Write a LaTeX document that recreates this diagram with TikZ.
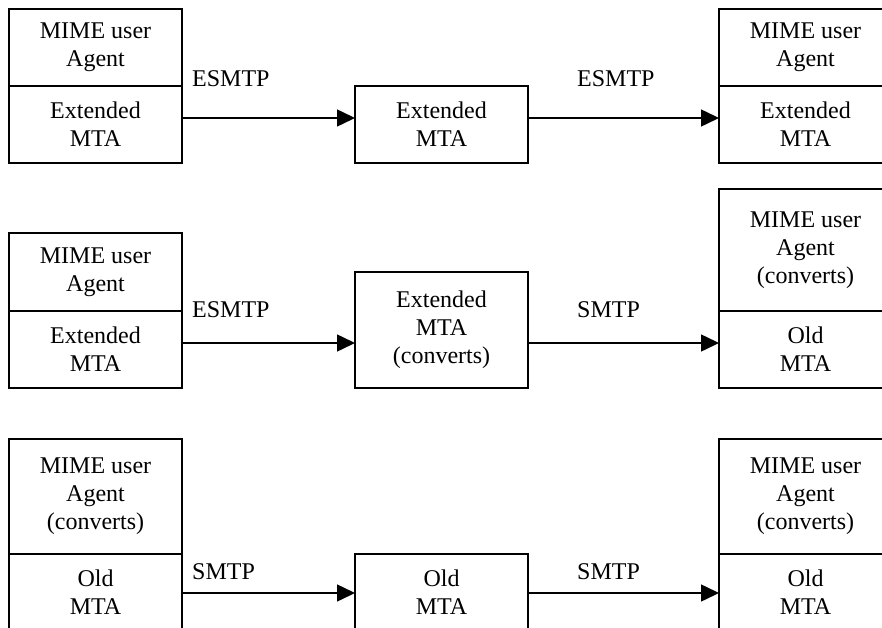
\documentclass[tikz,border=0pt]{standalone}
\usepackage{fontspec}
\setmainfont{Liberation Serif}
\usetikzlibrary{arrows.meta}
\tikzset{
  base/.style={font=\fontsize{24}{28}\selectfont},
  box/.style={base, draw, line width=1.5pt, minimum width=173pt, inner sep=0pt, outer sep=0pt, align=center},
  arr/.style={line width=1.5pt, -{Triangle[length=18pt,width=17pt]}},
  lab/.style={base, anchor=base west, inner sep=0pt}
}
\begin{document}
\begin{tikzpicture}[x=1pt,y=-1pt]
\useasboundingbox (0,0) rectangle (882,628);
% Row 1
\node[box, minimum height=77pt] (l1t) at (95.5,47.5) {MIME user\\Agent};
\node[box, minimum height=77pt] (l1b) at (95.5,124.5) {Extended\\MTA};
\node[box, minimum height=77pt] (m1) at (441.5,124.5) {Extended\\MTA};
\node[box, minimum height=77pt] (r1t) at (805.5,47.5) {MIME user\\Agent};
\node[box, minimum height=77pt] (r1b) at (805.5,124.5) {Extended\\MTA};
\draw[arr] ([yshift=6.5pt]l1b.east) -- ([yshift=6.5pt]m1.west);
\draw[arr] ([yshift=6.5pt]m1.east) -- ([yshift=6.5pt]r1b.west);
\node[lab] (e1) at (192,87) {ESMTP};
\node[lab] (e2) at (577,87) {ESMTP};
% Row 2
\node[box, minimum height=78pt] (l2t) at (95.5,272) {MIME user\\Agent};
\node[box, minimum height=77pt] (l2b) at (95.5,349.5) {Extended\\MTA};
\node[box, minimum height=116pt] (m2) at (441.5,330) {Extended\\MTA\\(converts)};
\node[box, minimum height=122pt] (r2t) at (805.5,250) {MIME user\\Agent\\(converts)};
\node[box, minimum height=77pt] (r2b) at (805.5,349.5) {Old\\MTA};
\draw[arr] ([yshift=6.5pt]l2b.east) -- ([yshift=-13pt]m2.west);
\draw[arr] ([yshift=-13pt]m2.east) -- ([yshift=6.5pt]r2b.west);
\node[lab] (e3) at (192,317) {ESMTP};
\node[lab] (s1) at (577,317) {SMTP};
% Row 3
\node[box, minimum height=115pt] (l3t) at (95.5,496.5) {MIME user\\Agent\\(converts)};
\node[box, minimum height=77pt] (l3b) at (95.5,592.5) {Old\\MTA};
\node[box, minimum height=77pt] (m3) at (441.5,592.5) {Old\\MTA};
\node[box, minimum height=115pt] (r3t) at (805.5,496.5) {MIME user\\Agent\\(converts)};
\node[box, minimum height=77pt] (r3b) at (805.5,592.5) {Old\\MTA};
\draw[arr] ([yshift=-0.5pt]l3b.east) -- ([yshift=-0.5pt]m3.west);
\draw[arr] ([yshift=-0.5pt]m3.east) -- ([yshift=-0.5pt]r3b.west);
\node[lab] (s2) at (192,579) {SMTP};
\node[lab] (s3) at (577,579) {SMTP};
\end{tikzpicture}
\end{document}
